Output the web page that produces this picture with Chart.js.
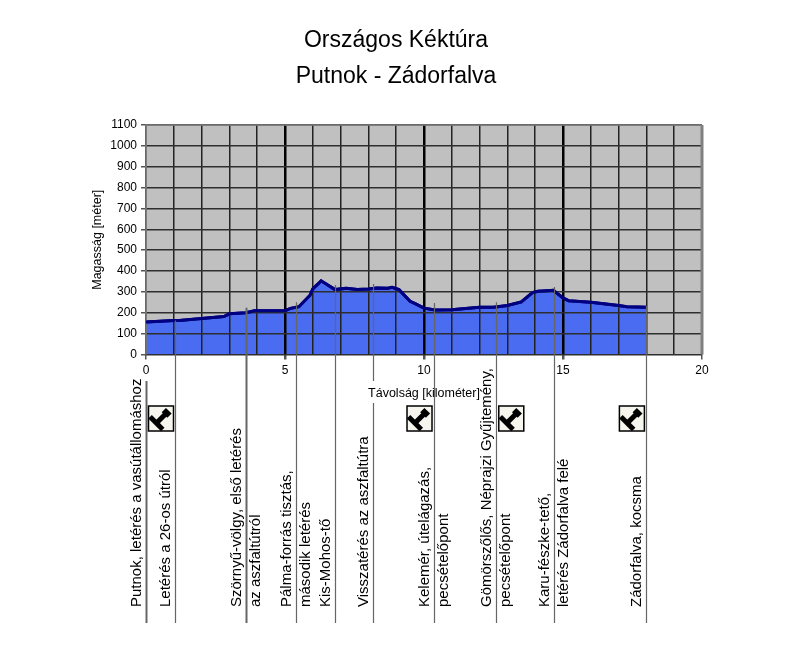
<!DOCTYPE html>
<html>
<head>
<meta charset="utf-8">
<style>
  html, body { margin: 0; padding: 0; background: #fff; }
  canvas { display: block; }
</style>
<script src="https://cdn.jsdelivr.net/npm/chart.js@4/dist/chart.umd.min.js"></script>
</head>
<body>
<canvas id="chart" width="800" height="656"></canvas>
<script>
const titleLines = ['Országos Kéktúra', 'Putnok - Zádorfalva'];
const xTitle = 'Távolság [kilométer]';
const yTitle = 'Magasság [méter]';

// profile
const distKm = [0, 1, 1.2, 2, 2.8, 3, 3.6, 3.9, 5, 5.2, 5.5, 5.9, 6, 6.3, 6.8, 7.2, 7.6, 8, 8.3, 8.7, 8.85, 9.1, 9.5, 9.7, 10, 10.4, 11, 11.5, 12, 12.5, 13, 13.5, 13.9, 14.1, 14.45, 14.65, 15, 15.2, 16, 17, 17.3, 18];
const heightM = [156, 163, 163, 172, 182, 195, 200, 210, 210, 221, 229, 284, 314, 353, 311, 318, 311, 314, 319, 318, 322, 311, 255, 243, 222, 213, 214, 221, 227, 227, 235, 252, 297, 303, 306, 308, 271, 258, 250, 235, 229, 226];

// waypoints along the trail
const wayKm = [0, 1.04, 3.58, 5.41, 6.8, 8.18, 10.36, 12.6, 14.68, 18];
const wayTopM = [0, 163, 224, 251, 333, 338, 247, 251, 323, 232];
const wayLabels = [
  ['Putnok, letérés a vasútállomáshoz'],
  ['Letérés a 26-os útról'],
  ['Szörnyű-völgy, első letérés', 'az aszfaltútról'],
  ['Pálma-forrás tisztás,', 'második letérés'],
  ['Kis-Mohos-tő'],
  ['Visszatérés az aszfaltútra'],
  ['Kelemér, útelágazás,', 'pecsételőpont'],
  ['Gömörszőlős, Néprajzi Gyűjtemény,', 'pecsételőpont'],
  ['Karu-fészke-tető,', 'letérés Zádorfalva felé'],
  ['Zádorfalva, kocsma']
];
const stampWays = [0, 6, 7, 9];

const FONT = '"Liberation Sans", Arial, sans-serif';

function drawStamp(ctx, left, top){
  const s = 25;
  ctx.save();
  ctx.fillStyle = '#f6f6ee';
  ctx.strokeStyle = '#000';
  ctx.lineWidth = 1.5;
  ctx.fillRect(left, top, s, s);
  ctx.strokeRect(left, top, s, s);
  ctx.translate(left + s / 2, top + s / 2);
  ctx.rotate(Math.PI / 4);
  ctx.fillStyle = '#000';
  ctx.fillRect(-2.5, -10, 5, 16);
  ctx.fillRect(-4, -11, 8, 6);
  ctx.fillRect(-9, 4, 18, 5);
  ctx.restore();
}

const plotBack = {
  id: 'plotBack',
  beforeDraw(chart){
    const a = chart.chartArea, ctx = chart.ctx;
    ctx.save();
    ctx.fillStyle = '#c0c0c0';
    ctx.fillRect(a.left, a.top, a.width, a.height);
    ctx.restore();
  },
  afterDraw(chart){
    const ctx = chart.ctx, a = chart.chartArea;
    const x = chart.scales.x, y = chart.scales.y;
    ctx.save();

    // plot frame, then the profile line again on top of the grid
    ctx.strokeStyle = '#808080';
    ctx.lineWidth = 1.5;
    ctx.beginPath();
    ctx.moveTo(a.left, a.bottom); ctx.lineTo(a.left, a.top); ctx.lineTo(a.right, a.top);
    ctx.stroke();
    ctx.lineWidth = 3;
    ctx.beginPath();
    ctx.moveTo(a.right, a.top); ctx.lineTo(a.right, a.bottom);
    ctx.stroke();
    chart.getDatasetMeta(0).dataset.draw(ctx, a);

    // leader lines with their labels
    const leaderEnd = 623, textStart = 607;
    wayKm.forEach((km, i) => {
      const px = Math.round(x.getPixelForValue(km)) + 0.5;
      ctx.strokeStyle = '#666';
      ctx.lineWidth = (i === 0 || i === 2) ? 2 : 1.2;
      ctx.beginPath();
      if (i === 0) {
        ctx.moveTo(px, 381);
      } else {
        ctx.moveTo(px, y.getPixelForValue(wayTopM[i]));
      }
      if (i === 5) { ctx.lineTo(px, 381); ctx.moveTo(px, 403); }
      ctx.lineTo(px, leaderEnd);
      ctx.stroke();

      const lines = wayLabels[i];
      const offsets = lines.length === 2 ? [-10, 9.5] : [-9.5];
      ctx.fillStyle = '#000';
      ctx.font = '15px ' + FONT;
      ctx.textAlign = 'left';
      ctx.textBaseline = 'middle';
      lines.forEach((t, j) => {
        ctx.save();
        ctx.translate(px + offsets[j], textStart);
        ctx.rotate(-Math.PI / 2);
        ctx.fillText(t, 0, 0);
        ctx.restore();
      });
    });

    // stamp boxes sit on the left of the leader, except where the label is in the way
    stampWays.forEach(i => {
      const px = x.getPixelForValue(wayKm[i]);
      const onRight = i === 0 || i === 7;
      drawStamp(ctx, onRight ? px + 2.5 : px - 27, 406);
    });
    ctx.restore();
  }
};

new Chart(document.getElementById('chart'), {
  type: 'line',
  data: {
    datasets: [{
      data: distKm.map((km, i) => ({ x: km, y: heightM[i] })),
      borderColor: '#000080',
      borderWidth: 3,
      backgroundColor: '#4a6cf0',
      fill: 'origin',
      pointRadius: 0,
      tension: 0
    }]
  },
  options: {
    responsive: false,
    animation: false,
    devicePixelRatio: 1,
    layout: { padding: { left: 90, right: 98, top: 0, bottom: 251.5 } },
    plugins: {
      legend: { display: false },
      tooltip: { enabled: false },
      title: {
        display: true,
        text: titleLines,
        color: '#000',
        font: { family: FONT, size: 23, weight: 'normal', lineHeight: 1.565 },
        padding: { top: 23, bottom: 30 }
      }
    },
    scales: {
      x: {
        type: 'linear',
        min: 0,
        max: 20,
        afterFit(scale){ scale.height = 50; },
        grid: {
          z: 1,
          color: c => (c.tick && [5, 10, 15].includes(c.tick.value) ? '#000' : '#222'),
          lineWidth: c => (c.tick && [5, 10, 15].includes(c.tick.value) ? 2.5 : 1.5),
          tickLength: 5,
          tickColor: c => (c.tick && c.tick.value % 5 === 0 ? '#555' : 'rgba(0,0,0,0)')
        },
        border: { display: false },
        ticks: {
          stepSize: 1,
          autoSkip: false,
          maxRotation: 0,
          padding: 4,
          color: '#000',
          font: { family: FONT, size: 12 },
          callback: v => (v % 5 === 0 ? String(v) : '')
        },
        title: {
          display: true,
          text: xTitle,
          color: '#000',
          font: { family: FONT, size: 12.5 },
          padding: { top: 0, bottom: 3 }
        }
      },
      y: {
        min: 0,
        max: 1100,
        afterFit(scale){ scale.width = 56; },
        grid: {
          z: 1,
          color: '#2e2e2e',
          lineWidth: 1.5,
          tickLength: 5,
          tickColor: '#555'
        },
        border: { display: false },
        ticks: {
          stepSize: 100,
          padding: 4,
          color: '#000',
          font: { family: FONT, size: 12 },
          callback: v => String(v)
        },
        title: {
          display: true,
          text: yTitle,
          color: '#000',
          font: { family: FONT, size: 12.5 },
          padding: { top: 0, bottom: 0 }
        }
      }
    }
  },
  plugins: [plotBack]
});
</script>
</body>
</html>
